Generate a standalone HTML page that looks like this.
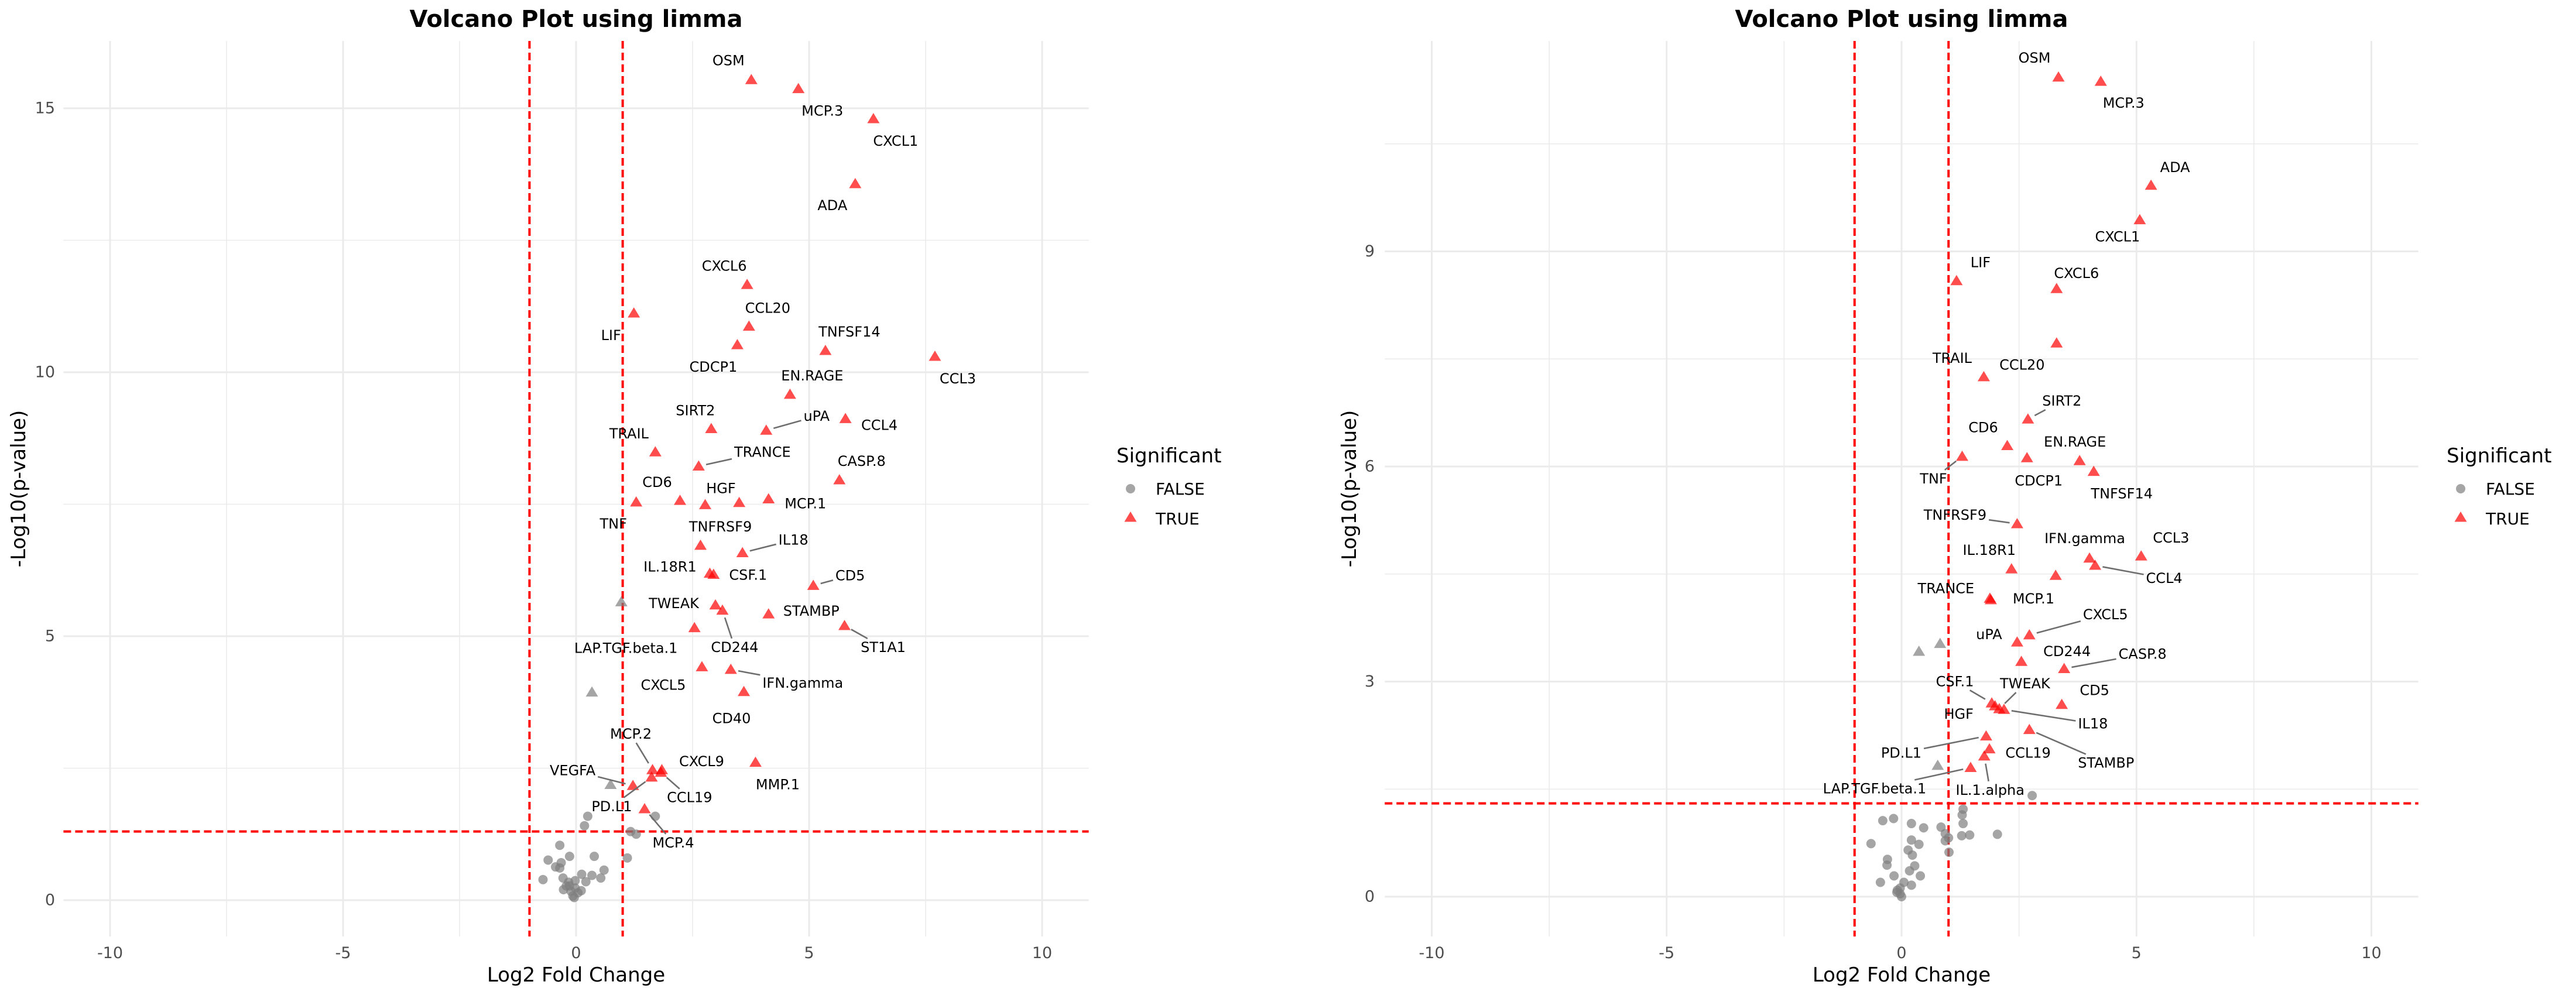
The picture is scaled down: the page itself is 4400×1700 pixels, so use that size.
<!DOCTYPE html>
<html><head><meta charset="utf-8"><title>Volcano Plots</title>
<style>
html,body{margin:0;padding:0;background:#fff;}
svg{display:block;font-family:"DejaVu Sans","Liberation Sans",sans-serif;}
</style></head>
<body>
<svg id="chart" width="4400" height="1700" viewBox="0 0 4400 1700" xmlns="http://www.w3.org/2000/svg"></svg>
<script>
// ---------- LEFT PANEL DATA ----------
const leftSigNames = ["OSM","MCP.3","CXCL1","ADA","CXCL6","LIF","CCL20","CDCP1","TNFSF14","CCL3","EN.RAGE","CCL4","SIRT2","uPA","TRAIL","TRANCE","CASP.8","CD6","TNF","HGF","","MCP.1","TNFRSF9","IL18","IL.18R1","CSF.1","CD5","TWEAK","CD244","STAMBP","LAP.TGF.beta.1","ST1A1","CXCL5","IFN.gamma","CD40","MMP.1","CXCL9","MCP.2","CCL19","PD.L1","VEGFA","MCP.4"];
const leftSigFC = [3.76,4.77,6.38,5.99,3.67,1.24,3.71,3.46,5.35,7.70,4.59,5.78,2.90,4.08,1.70,2.63,5.65,2.23,1.29,2.77,3.50,4.13,2.67,3.57,2.87,2.95,5.09,2.99,3.14,4.13,2.54,5.76,2.70,3.32,3.60,3.85,1.84,1.64,1.82,1.62,1.22,1.47];
const leftSigP = [15.54,15.37,14.80,13.57,11.66,11.12,10.87,10.52,10.41,10.30,9.58,9.12,8.93,8.90,8.49,8.22,7.96,7.57,7.54,7.49,7.53,7.60,6.72,6.58,6.19,6.17,5.96,5.59,5.49,5.42,5.16,5.20,4.42,4.37,3.95,2.61,2.47,2.47,2.42,2.33,2.17,1.73];
const leftNsTriFC = [0.97,0.34,0.74];
const leftNsTriP = [5.65,3.94,2.19];
const leftNsFC = [0.25,0.18,1.17,1.29,1.70,-0.35,-0.14,0.39,1.10,-0.60,-0.32,-0.44,-0.35,0.60,-0.71,-0.28,0.12,0.53,0.34,-0.16,-0.02,0.21,-0.27,-0.14,-0.02,0.11,-0.11,0.04,-0.07,-0.04,-0.21];
const leftNsP = [1.59,1.41,1.30,1.25,1.59,1.04,0.83,0.83,0.80,0.76,0.71,0.63,0.61,0.57,0.39,0.42,0.49,0.42,0.47,0.34,0.37,0.35,0.20,0.27,0.23,0.18,0.17,0.14,0.08,0.05,0.27];
const leftXTicks = [-10,-5,0,5,10];
const leftYTicks = [0,5,10,15];
// label layout (pixel offsets of label centre from its point)
const leftLabDX = [-39,41,38,-39,-39,-39,32,-41,41,39,38,58,-27,86,-45,109,38,-39,-39,27,0,63,34,87,-68,59,63,-71,21,73,-117,66,-66,123,-21,38,68,-37,49,-68,-103,49];
const leftLabDY = [-33,38,38,37,-32,38,-31,38,-32,38,-32,11,-31,-24,-31,-24,-32,-31,37,-28,0,8,-32,-22,-11,1,-17,-3,63,-5,35,37,31,23,46,38,-14,-61,43,50,-26,58];
const leftLabSeg = [0,0,0,0,0,0,0,0,0,0,0,0,0,1,0,1,0,0,0,0,0,0,0,1,0,0,1,0,1,0,0,1,0,1,0,0,0,1,1,1,1,1];

// ---------- RIGHT PANEL DATA ----------
const rightSigNames = ["OSM","MCP.3","ADA","CXCL1","LIF","CXCL6","CCL20","TRAIL","SIRT2","CD6","TNF","CDCP1","EN.RAGE","TNFSF14","TNFRSF9","CCL3","IFN.gamma","CCL4","IL.18R1","","TRANCE","MCP.1","CXCL5","uPA","CD244","CASP.8","CD5","CSF.1","HGF","TWEAK","IL18","STAMBP","PD.L1","CCL19","IL.1.alpha","LAP.TGF.beta.1"];
const rightSigFC = [3.34,4.24,5.31,5.07,1.17,3.30,3.30,1.75,2.69,2.25,1.29,2.67,3.79,4.09,2.46,5.10,4.00,4.12,2.34,3.28,1.88,1.90,2.72,2.46,2.55,3.46,3.41,1.92,1.99,2.08,2.18,2.72,1.80,1.87,1.76,1.47];
const rightSigP = [11.43,11.37,9.92,9.44,8.59,8.48,7.72,7.25,6.66,6.29,6.14,6.12,6.08,5.93,5.20,4.75,4.72,4.62,4.57,4.48,4.16,4.14,3.65,3.55,3.28,3.18,2.68,2.70,2.66,2.62,2.61,2.33,2.24,2.06,1.96,1.80];
const rightNsTriFC = [0.37,0.82,0.77];
const rightNsTriP = [3.42,3.53,1.83];
const rightNsFC = [2.78,1.31,1.29,1.31,-0.40,-0.17,0.21,0.47,0.84,0.93,2.04,1.45,1.28,1.00,0.93,-0.65,0.21,0.37,0.14,1.01,0.23,-0.30,-0.31,0.28,0.17,-0.16,0.40,-0.45,0.05,0.21,-0.03,-0.09,-0.03,0.00,-0.10];
const rightNsP = [1.41,1.22,1.14,1.02,1.06,1.09,1.02,0.96,0.97,0.88,0.87,0.86,0.85,0.82,0.78,0.74,0.79,0.73,0.65,0.62,0.58,0.52,0.44,0.43,0.36,0.29,0.29,0.20,0.20,0.16,0.12,0.09,0.04,0.00,0.06];
const rightXTicks = [-10,-5,0,5,10];
const rightYTicks = [0,3,6,9];
const rightLabDX = [-41,39,41,-38,41,34,-59,-54,58,-41,-49,20,-8,48,-106,51,-8,118,-38,0,-75,73,130,-48,78,134,56,-63,-62,44,152,131,-145,66,10,-164];
const rightLabDY = [-33,37,-31,29,-31,-26,37,-32,-31,-31,38,39,-32,38,-15,-31,-34,22,-32,0,-17,-2,-35,-13,-17,-25,-24,-37,14,-43,24,57,29,7,58,36];
const rightLabSeg = [0,0,0,0,0,0,0,0,1,0,1,0,0,0,1,0,0,1,0,0,0,0,1,0,0,1,0,1,0,1,1,1,1,0,1,1];

// ---------- LAYOUT ----------
const NS = "http://www.w3.org/2000/svg";
const svg = document.getElementById("chart");
function mk(tag, attrs, parent){
  const e = document.createElementNS(NS, tag);
  for (const k in attrs) e.setAttribute(k, attrs[k]);
  (parent||svg).appendChild(e);
  return e;
}

function drawPanel(cfg, d){
  const g = mk("g", {});
  
  
  const xs = v => cfg.x0 + v * cfg.ux;
  const ys = v => cfg.y0 - v * cfg.uy;
  const L = xs(-11), R = xs(11), T = 70, B = 1600;

  // grid
  const grid = mk("g", {}, g);
  
  
  for (let v = -10; v <= 10; v += 2.5){
    const major = d.xTicks.includes(v);
    const ln = mk("line", {x1: xs(v), x2: xs(v), y1: T, y2: B, stroke: "#ebebeb", "stroke-width": major ? 3 : 1.6}, grid);
    
    
  }
  const yStep = d.yTicks[1] - d.yTicks[0];
  for (let v = d.yTicks[0]; ys(v) >= T; v += yStep/2){
    const major = d.yTicks.includes(v);
    const ln = mk("line", {x1: L, x2: R, y1: ys(v), y2: ys(v), stroke: "#ebebeb", "stroke-width": major ? 3 : 1.6}, grid);
    
    
  }

  // threshold lines
  const thr = [[xs(-1), T, xs(-1), B, 'fold-change-threshold-neg'], [xs(1), T, xs(1), B, 'fold-change-threshold-pos'], [L, ys(1.30103), R, ys(1.30103), 'p-value-threshold']];
  thr.forEach(t => {
    const ln = mk("line", {x1: t[0], y1: t[1], x2: t[2], y2: t[3], stroke: "#ff0000", "stroke-width": 4, "stroke-dasharray": "13 7"}, g);
    
    
  });

  // non-significant circles
  d.nsFC.forEach((fc, i) => {
    const c = mk("circle", {cx: xs(fc), cy: ys(d.nsP[i]), r: 8, fill: "#7f7f7f", "fill-opacity": 0.7}, g);
    
    
  });
  const tri = (x, y) => `${x},${y-10} ${x-10.5},${y+7.5} ${x+10.5},${y+7.5}`;
  d.nsTriFC.forEach((fc, i) => {
    const p = mk("polygon", {points: tri(xs(fc), ys(d.nsTriP[i])), fill: "#7f7f7f", "fill-opacity": 0.7}, g);
    
    
  });
  d.sigFC.forEach((fc, i) => {
    const p = mk("polygon", {points: tri(xs(fc), ys(d.sigP[i])), fill: "#ff0000", "fill-opacity": 0.7}, g);
    
    
  });

  // labels + segments
  d.names.forEach((nm, i) => {
    if (!nm) return;
    const px = xs(d.sigFC[i]), py = ys(d.sigP[i]);
    const lx = px + d.dx[i], ly = py + d.dy[i];
    const t = mk("text", {x: lx, y: ly, "text-anchor": "middle", "dominant-baseline": "central", "font-size": 24, fill: "#000"}, g);
    t.textContent = nm;
    
    
    if (d.seg[i]){
      const w = t.getComputedTextLength ? t.getComputedTextLength() : nm.length * 14;
      const hw = w/2 + 4, hh = 15;
      const vx = lx - px, vy = ly - py;
      const tb = Math.min(Math.abs(vx) > 0.01 ? hw/Math.abs(vx) : 9, Math.abs(vy) > 0.01 ? hh/Math.abs(vy) : 9);
      const len = Math.hypot(vx, vy);
      const s = 13/len;
      const ln = mk("line", {x1: px + vx*s, y1: py + vy*s, x2: lx - vx*tb, y2: ly - vy*tb, stroke: "#6e6e6e", "stroke-width": 2.6}, g);
      
      
    }
  });

  // ticks
  d.xTicks.forEach(v => {
    const t = mk("text", {x: xs(v), y: 1637, "text-anchor": "middle", "font-size": 27, fill: "#4d4d4d"}, g);
    t.textContent = v;
    
    
  });
  d.yTicks.forEach(v => {
    const t = mk("text", {x: cfg.tickX, y: ys(v), "text-anchor": "end", "dominant-baseline": "central", "font-size": 27, fill: "#4d4d4d"}, g);
    t.textContent = v;
    
    
  });

  // titles
  const ttl = mk("text", {x: (L+R)/2, y: 46, "text-anchor": "middle", "font-size": 40, "font-weight": "bold", fill: "#000"}, g);
  ttl.textContent = "Volcano Plot using limma";
  
  
  const xt = mk("text", {x: (L+R)/2, y: 1677, "text-anchor": "middle", "font-size": 34, fill: "#000"}, g);
  xt.textContent = "Log2 Fold Change";
  
  
  const yt = mk("text", {x: 0, y: 0, "text-anchor": "middle", "dominant-baseline": "central", "font-size": 34, fill: "#000", transform: `translate(${cfg.ylabX},${(T+B)/2}) rotate(-90)`}, g);
  yt.textContent = "-Log10(p-value)";
  
  

  // legend
  const lg = mk("g", {}, g);
  
  
  const lx = cfg.legX;
  const lt = mk("text", {x: lx, y: 790, "font-size": 34, fill: "#000"}, lg);
  lt.textContent = "Significant";
  
  
  const lc = mk("circle", {cx: lx + 24, cy: 835, r: 8, fill: "#7f7f7f", "fill-opacity": 0.7}, lg);
  
  
  const lf = mk("text", {x: lx + 67, y: 845, "font-size": 28, fill: "#000"}, lg);
  lf.textContent = "FALSE";
  
  
  const ltr = mk("polygon", {points: tri(lx + 24, 884), fill: "#ff0000", "fill-opacity": 0.7}, lg);
  
  
  const ltt = mk("text", {x: lx + 67, y: 896, "font-size": 28, fill: "#000"}, lg);
  ltt.textContent = "TRUE";
  
  
}

drawPanel({id: "left", x0: 984, ux: 79.6, y0: 1538, uy: 90.2, tickX: 94, ylabX: 32, legX: 1907},
  {names: leftSigNames, sigFC: leftSigFC, sigP: leftSigP, nsTriFC: leftNsTriFC, nsTriP: leftNsTriP, nsFC: leftNsFC, nsP: leftNsP, xTicks: leftXTicks, yTicks: leftYTicks, dx: leftLabDX, dy: leftLabDY, seg: leftLabSeg});
drawPanel({id: "right", x0: 3248, ux: 80.25, y0: 1532, uy: 122.5, tickX: 2348, ylabX: 2305, legX: 4179},
  {names: rightSigNames, sigFC: rightSigFC, sigP: rightSigP, nsTriFC: rightNsTriFC, nsTriP: rightNsTriP, nsFC: rightNsFC, nsP: rightNsP, xTicks: rightXTicks, yTicks: rightYTicks, dx: rightLabDX, dy: rightLabDY, seg: rightLabSeg});
</script>
</body></html>
